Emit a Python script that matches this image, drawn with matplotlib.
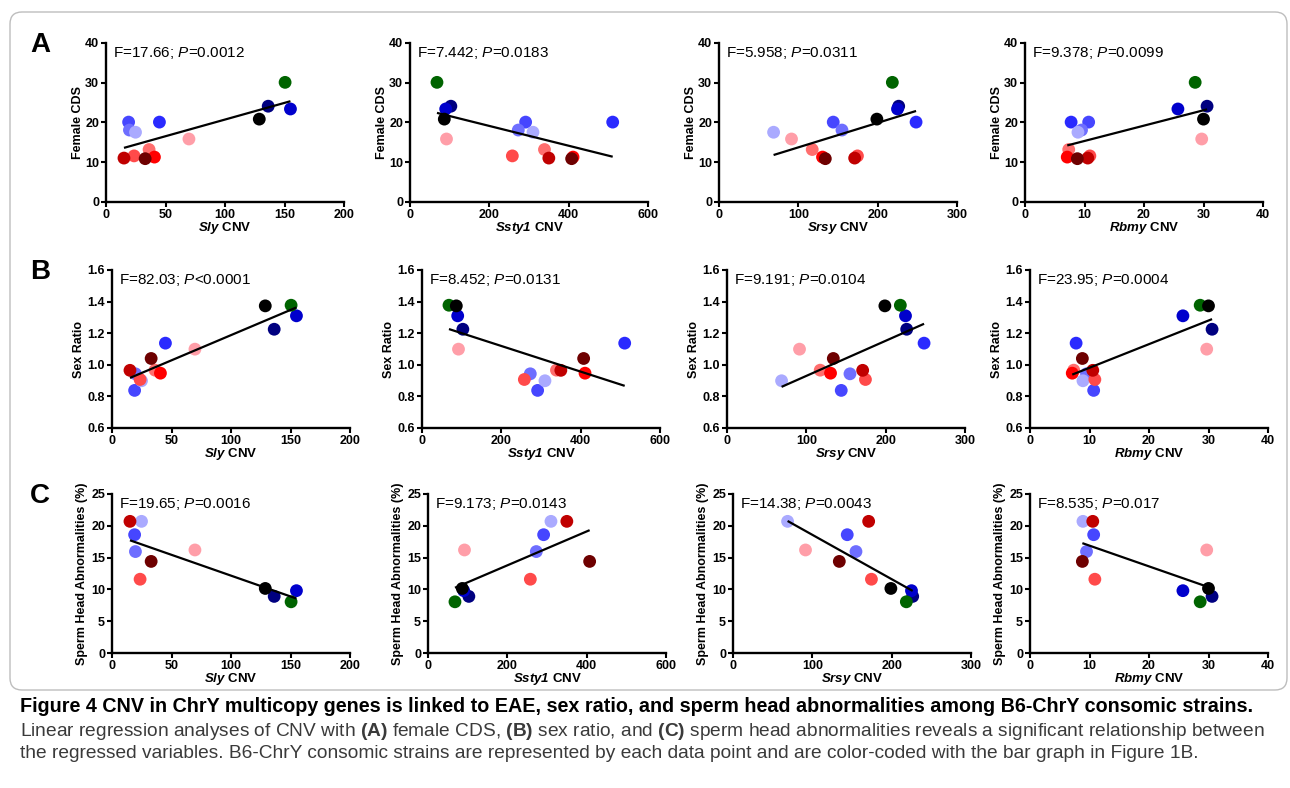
import numpy as np
import matplotlib
matplotlib.use('Agg')
import matplotlib.pyplot as plt
from matplotlib.patches import FancyBboxPatch
from matplotlib.transforms import IdentityTransform

plt.rcParams['font.family'] = ['Liberation Sans', 'DejaVu Sans']
plt.rcParams['mathtext.fontset'] = 'custom'
plt.rcParams['mathtext.rm'] = 'Liberation Sans'
plt.rcParams['mathtext.it'] = 'Liberation Sans:italic'
plt.rcParams['mathtext.bf'] = 'Liberation Sans:bold'
plt.rcParams['mathtext.sf'] = 'Liberation Sans:italic:bold'

nan = np.nan
# ---- data: one entry per B6-ChrY consomic strain (in drawing order) ----
strain_colors = ['#000080', '#0000cc', '#006400', '#000000', '#ff9ea8', '#2a2aff',
                 '#4646ff', '#6e6eff', '#aaaaff', '#ff4a4a', '#ff6e6e', '#ff0000',
                 '#c00000', '#6e0000']
sly_cnv = [136.3, 155.0, 150.5, 128.8, 69.7, 44.9, 19.0, 19.7, 24.8, 23.6, 36.2, 40.7, 15.1, 32.9]
ssty1_cnv = [103, 90, 68, 86.5, 92, 511, 291.5, 273, 310, 258, 339, 411, 350, 407.5]
srsy_cnv = [226.5, 225, 218.5, 199, 91.4, 248.4, 144, 155, 68.8, 174.5, 117.5, 130.5, 171, 134]
rbmy_cnv = [30.6, 25.7, 28.6, 30.0, 29.7, 7.75, 10.7, 9.5, 8.9, 10.9, 7.35, 7.1, 10.55, 8.8]
female_cds = [24.1, 23.4, 30.1, 20.85, 15.85, 20.1, 20.1, 18.1, 17.55, 11.6, 13.2, 11.3, 11.05, 10.9]
sex_ratio = [1.225, 1.31, 1.377, 1.373, 1.099, 1.137, 0.838, 0.943, 0.899, 0.907, 0.966, 0.947, 0.965, 1.04]
sperm_head = [8.9, 9.8, 8.05, 10.15, 16.2, nan, 18.6, 15.95, 20.7, 11.6, nan, nan, 20.7, 14.4]

gene_names = ['Sly', 'Ssty1', 'Srsy', 'Rbmy']
gene_cnv = [sly_cnv, ssty1_cnv, srsy_cnv, rbmy_cnv]
gene_xmax = [200, 600, 300, 40]
gene_xstep = [50, 200, 100, 10]

row_letters = ['A', 'B', 'C']
row_ylabels = ['Female CDS', 'Sex Ratio', 'Sperm Head Abnormalities (%)']
row_values = [female_cds, sex_ratio, sperm_head]
row_yticks = [[0, 10, 20, 30, 40], [0.6, 0.8, 1.0, 1.2, 1.4, 1.6], [0, 5, 10, 15, 20, 25]]
row_ytick_labels = [['0', '10', '20', '30', '40'],
                    ['0.6', '0.8', '1.0', '1.2', '1.4', '1.6'],
                    ['0', '5', '10', '15', '20', '25']]

f_values = [['17.66', '7.442', '5.958', '9.378'],
            ['82.03', '8.452', '9.191', '23.95'],
            ['19.65', '9.173', '14.38', '8.535']]
p_values = [['=0.0012', '=0.0183', '=0.0311', '=0.0099'],
            ['<0.0001', '=0.0131', '=0.0104', '=0.0004'],
            ['=0.0016', '=0.0143', '=0.0043', '=0.017']]

caption_title = ('Figure 4 CNV in ChrY multicopy genes is linked to EAE, sex ratio, and sperm head '
                 'abnormalities among B6-ChrY consomic strains.')
caption_line1 = (r'Linear regression analyses of CNV with $\mathbf{(A)}$ female CDS, $\mathbf{(B)}$ sex ratio, '
                 r'and $\mathbf{(C)}$ sperm head abnormalities reveals a significant relationship between')
caption_line2 = ('the regressed variables. B6-ChrY consomic strains are represented by each data point '
                 'and are color-coded with the bar graph in Figure 1B.')

# ---- layout (pixels) ----
W, H = 1290, 788
fig = plt.figure(figsize=(W / 100, H / 100), dpi=100)

row_top_bottom = [(43, 202), (270, 428), (494, 653)]
col_lefts = [[106, 410, 719, 1025], [112, 422, 727, 1030], [112, 428, 733, 1030]]
ax_w = 238
ylabel_pads = [1.0, 1.5, 2.0]

# frame
frame = FancyBboxPatch((10, H - 690), 1277, 690 - 12, boxstyle='round,pad=0,rounding_size=12',
                       transform=IdentityTransform(), facecolor='none', edgecolor='#bdbdbd',
                       linewidth=1.0, figure=fig)
fig.patches.append(frame)

for r in range(3):
    top, bot = row_top_bottom[r]
    y = np.array(row_values[r], dtype=float)
    for c in range(4):
        x = np.array(gene_cnv[c], dtype=float)
        ax = fig.add_axes([col_lefts[r][c] / W, 1 - bot / H, ax_w / W, (bot - top) / H])
        ok = ~np.isnan(y)
        ax.scatter(x[ok], y[ok], s=85, c=np.array(strain_colors)[ok], edgecolors='none',
                   zorder=3, clip_on=False)
        k, b0 = np.polyfit(x[ok], y[ok], 1)
        xs = np.array([x[ok].min(), x[ok].max()])
        ax.plot(xs, k * xs + b0, color='black', lw=1.6, zorder=4, solid_capstyle='butt')
        ax.set_xlim(0, gene_xmax[c])
        ax.set_ylim(row_yticks[r][0], row_yticks[r][-1])
        ax.set_xticks(np.arange(0, gene_xmax[c] + 1, gene_xstep[c]))
        ax.set_yticks(row_yticks[r])
        ax.set_yticklabels(row_ytick_labels[r])
        for s in ['top', 'right']:
            ax.spines[s].set_visible(False)
        for s in ['left', 'bottom']:
            ax.spines[s].set_linewidth(1.7)
        ax.tick_params(direction='out', length=3.5, width=1.5, labelsize=9, pad=1.5)
        for lab in ax.get_xticklabels() + ax.get_yticklabels():
            lab.set_fontweight('bold')
        ax.set_ylabel(row_ylabels[r], fontsize=9, fontweight='bold', labelpad=ylabel_pads[r])
        ax.set_xlabel(r'$\mathsf{' + gene_names[c] + r'}$ CNV', fontsize=9.5, fontweight='bold',
                      labelpad=-1.0)
        ax.text(0.03, 0.937, 'F=' + f_values[r][c] + r'; $\it{P}$' + p_values[r][c],
                transform=ax.transAxes, fontsize=11, va='center', ha='left')
    fig.text(40 / W, 1 - (top + 2) / H, row_letters[r], fontsize=20, fontweight='bold',
             ha='center', va='center')

fig.text(20 / W, 1 - 707 / H, caption_title, fontsize=14.2, fontweight='bold', va='center', ha='left')
fig.text(20 / W, 1 - 731 / H, caption_line1, fontsize=13.8, va='center', ha='left', color='#3a3a3a')
fig.text(20 / W, 1 - 754 / H, caption_line2, fontsize=13.8, va='center', ha='left', color='#3a3a3a')

fig.savefig('out.png', dpi=100)
